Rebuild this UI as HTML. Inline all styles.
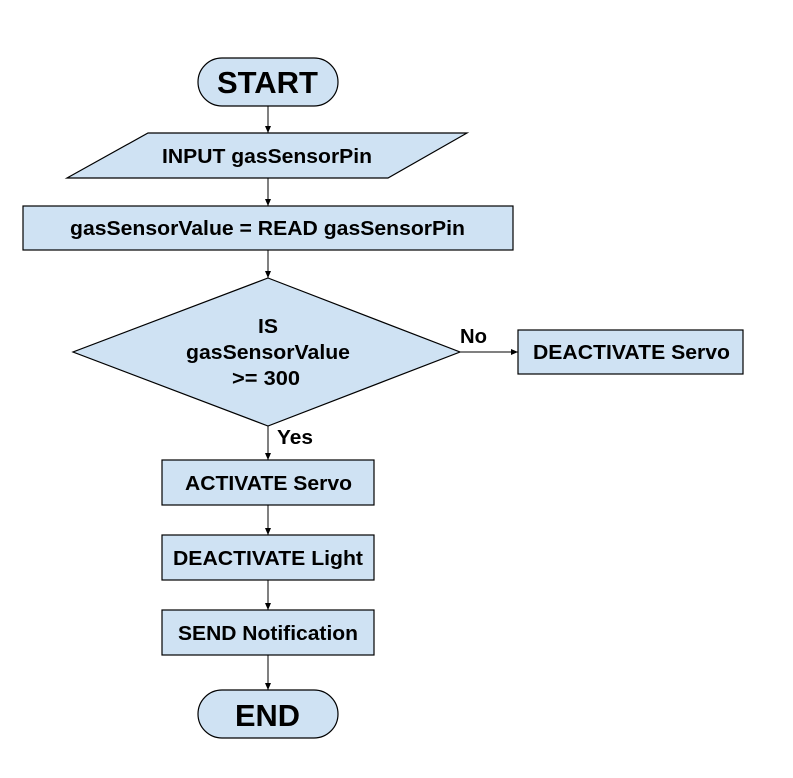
<!DOCTYPE html>
<html><head><style>
body{margin:0;background:#fff;}
svg text{font-family:"Liberation Sans",Arial,sans-serif;font-weight:bold;fill:#000;}
</style></head><body>
<svg width="793" height="773" viewBox="0 0 793 773" xmlns="http://www.w3.org/2000/svg">
<defs><marker id="a" markerWidth="8" markerHeight="8" refX="7" refY="4" orient="auto" markerUnits="userSpaceOnUse"><path d="M0,1 L7,4 L0,7 z" fill="#000"/></marker></defs>
<g fill="#cfe2f3" stroke="#000" stroke-width="1.2">
<rect x="198" y="58" width="140" height="48" rx="24"/>
<polygon points="148,133 467,133 388,178 67,178"/>
<rect x="23" y="206" width="490" height="44"/>
<polygon points="268,278 460,352 268,426 73,352"/>
<rect x="518" y="330" width="225" height="44"/>
<rect x="162" y="460" width="212" height="45"/>
<rect x="162" y="535" width="212" height="45"/>
<rect x="162" y="610" width="212" height="45"/>
<rect x="198" y="690" width="140" height="48" rx="24"/>
</g>
<g stroke="#000" stroke-width="1" marker-end="url(#a)">
<line x1="268" y1="106" x2="268" y2="133"/>
<line x1="268" y1="178" x2="268" y2="206"/>
<line x1="268" y1="250" x2="268" y2="278"/>
<line x1="460" y1="352" x2="518" y2="352"/>
<line x1="268" y1="426" x2="268" y2="460"/>
<line x1="268" y1="505" x2="268" y2="535"/>
<line x1="268" y1="580" x2="268" y2="610"/>
<line x1="268" y1="655" x2="268" y2="690"/>
</g>
<g font-size="20" lengthAdjust="spacingAndGlyphs">
<text x="217" y="93" font-size="31" textLength="101" lengthAdjust="spacingAndGlyphs">START</text>
<text x="162" y="163" textLength="210" lengthAdjust="spacingAndGlyphs">INPUT gasSensorPin</text>
<text x="70" y="235" textLength="395" lengthAdjust="spacingAndGlyphs">gasSensorValue = READ gasSensorPin</text>
<text x="258" y="333" textLength="20" lengthAdjust="spacingAndGlyphs">IS</text>
<text x="186" y="359" textLength="164" lengthAdjust="spacingAndGlyphs">gasSensorValue</text>
<text x="232" y="385" textLength="68" lengthAdjust="spacingAndGlyphs">&gt;= 300</text>
<text x="533" y="359" textLength="197" lengthAdjust="spacingAndGlyphs">DEACTIVATE Servo</text>
<text x="185" y="490" textLength="167" lengthAdjust="spacingAndGlyphs">ACTIVATE Servo</text>
<text x="173" y="565" textLength="190" lengthAdjust="spacingAndGlyphs">DEACTIVATE Light</text>
<text x="178" y="640" textLength="180" lengthAdjust="spacingAndGlyphs">SEND Notification</text>
<text x="235" y="726" font-size="31" textLength="65" lengthAdjust="spacingAndGlyphs">END</text>
<text x="460" y="343" textLength="27" lengthAdjust="spacingAndGlyphs">No</text>
<text x="277" y="444" textLength="36" lengthAdjust="spacingAndGlyphs">Yes</text>
</g>
</svg>
</body></html>
